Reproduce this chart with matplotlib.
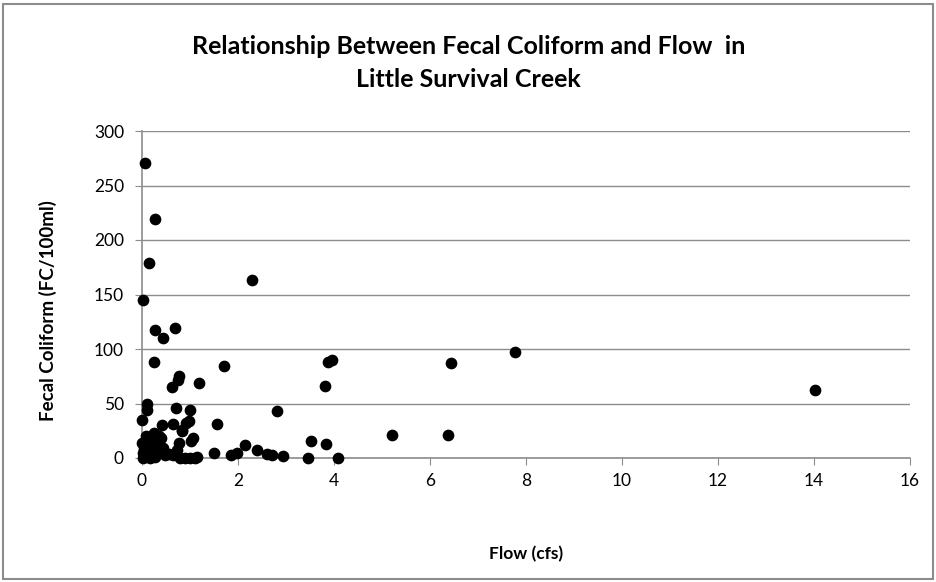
import matplotlib.pyplot as plt
from matplotlib.patches import Rectangle

# flow (cfs) and fecal coliform (FC/100ml)
flow = [0.07, 0.28, 0.15, 0.02, 2.29, 0.27, 0.69, 0.43, 0.24, 1.70,
        0.78, 0.74, 0.63, 1.19, 0.11, 0.11, 0.71, 0.99, 2.82, 0.00,
        0.41, 0.65, 0.91, 0.98, 1.56, 0.83, 1.02, 0.78, 3.53, 2.14,
        2.39, 1.49, 1.97, 1.85, 2.60, 2.70, 2.93, 3.46, 0.80, 0.90,
        1.00, 1.10, 0.47, 0.57, 0.27, 0.26, 0.09, 0.00, 0.23, 0.40,
        0.44, 0.02, 0.23, 0.50, 0.71, 0.03, 0.16, 0.05, 0.12, 0.18,
        0.33, 0.30, 0.36, 0.15, 0.72, 0.65, 1.07, 0.84, 3.83, 4.08,
        3.82, 3.88, 3.95, 5.21, 6.37, 6.43, 7.78, 14.02, 1.14]
fecal = [271, 219, 179, 145, 163, 117, 119, 110, 88, 84,
         75, 72, 65, 69, 50, 44, 46, 44, 43, 35,
         30, 31, 32, 34, 31, 25, 16, 14, 16, 12,
         7, 5, 5, 3, 4, 3, 2, 0, 0, 0,
         0, 0, 3, 4, 1, 23, 20, 14, 15, 18,
         9, 5, 3, 4, 4, 0, 0, 8, 11, 6,
         12, 7, 20, 16, 7, 3, 18, 26, 13, 0,
         66, 88, 90, 21, 21, 87, 97, 62, 1]

xticks = [0, 2, 4, 6, 8, 10, 12, 14, 16]
yticks = [0, 50, 100, 150, 200, 250, 300]

plt.rcParams['font.family'] = ['Lato', 'DejaVu Sans']
grey = '#8c8c8c'

W, H = 937, 582
fig = plt.figure(figsize=(W / 100, H / 100), dpi=100)
fig.patches.append(Rectangle((3 / W, 3 / H), 930 / W, 575 / H,
                             transform=fig.transFigure, fill=False,
                             edgecolor=grey, linewidth=1.5))

ax = fig.add_axes([142 / W, (H - 458) / H, 768 / W, 327 / H])
ax.scatter(flow, fecal, s=55, c='black', zorder=3, clip_on=False)

ax.set_xlim(0, 16)
ax.set_ylim(0, 300)
ax.set_xticks(xticks)
ax.set_yticks(yticks)
ax.yaxis.grid(True, color=grey, linewidth=1)
ax.set_axisbelow(True)
for s in ['top', 'right']:
    ax.spines[s].set_visible(False)
for s in ['left', 'bottom']:
    ax.spines[s].set_color(grey)
    ax.spines[s].set_linewidth(1.2)
ax.tick_params(axis='both', direction='out', length=5, color=grey,
               labelsize=12.5, labelcolor='black')
ax.tick_params(axis='x', pad=6)
ax.tick_params(axis='y', pad=8)

ax.set_xlabel('Flow (cfs)', fontsize=12.5, fontweight='bold', labelpad=41)
ax.set_ylabel('Fecal Coliform (FC/100ml)', fontsize=13.5, fontweight='bold')
ax.yaxis.set_label_coords(-0.111, 0.45)

fig.text(0.5, 1 - 63 / H,
         'Relationship Between Fecal Coliform and Flow  in\nLittle Survival Creek',
         ha='center', va='center', fontsize=18, fontweight='bold',
         linespacing=1.48)

fig.savefig('out.png', dpi=100)
